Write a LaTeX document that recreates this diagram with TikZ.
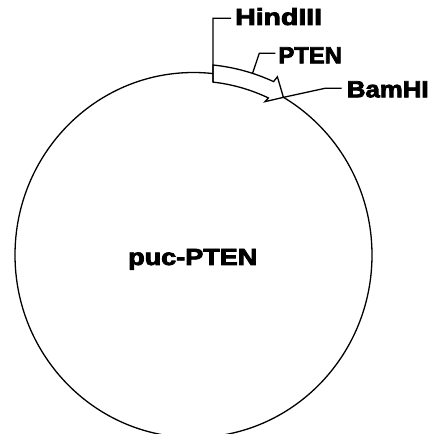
\documentclass[tikz,border=0pt]{standalone}
\usepackage{fontspec}
\newfontfamily\heavy[BoldFeatures={FakeBold=3.2}]{Liberation Sans}
\usetikzlibrary{calc}
\begin{document}
\begin{tikzpicture}[x=1pt,y=1pt,
  line/.style={line width=1.3pt, line join=miter},
  lbl/.style={inner sep=0pt, anchor=base west, font=\heavy\bfseries\fontsize{23.3}{28}\selectfont}]
\useasboundingbox (0,0) rectangle (433,434);
\clip (0,0) rectangle (433,434);
\coordinate (C) at (193.5,179);
% plasmid circle
\draw[line] (C) ellipse [x radius=178.5pt, y radius=182.5pt];
% insert arrow
\coordinate (oS) at ($(C)+(84.14:191)$);
\coordinate (iS) at ($(C)+(83.57:174)$);
\coordinate (tip) at ($(C)+(60.3:181.5)$);
\draw[line, fill=white] (oS) arc[start angle=84.14, end angle=65.2, radius=191pt]
  -- ($(C)+(64.8:197)$) -- (tip) -- ($(C)+(65:169.2)$) -- ($(C)+(64.5:174)$)
  arc[start angle=64.5, end angle=83.57, radius=174pt] -- cycle;
% labels
\node[lbl] (hind) at (235,409) {\scalebox{1.22}[1]{HindIII}};
\node[lbl] (pten) at (278.3,370.7) {\scalebox{1.02}[1]{PTEN}};
\node[lbl] (bam) at (346.7,336.7) {\scalebox{1.107}[1]{BamHI}};
\node[lbl] (puc) at (128,169) {\scalebox{1.16}[1]{puc-PTEN}};
% leaders
\coordinate (pS) at ($(C)+(72:190.5)$);
\coordinate (hK) at (213,415.7);
\coordinate (pK) at (259.3,380.7);
\coordinate (bK) at (325,345.7);
\draw[line] (iS) -- (hK) -- ([xshift=-4pt]hind.west |- hK);
\draw[line] (pS) -- (pK) -- ([xshift=-3pt]pten.west |- pK);
\draw[line] (tip) -- (bK) -- ([xshift=-5pt]bam.west |- bK);
\end{tikzpicture}
\end{document}
